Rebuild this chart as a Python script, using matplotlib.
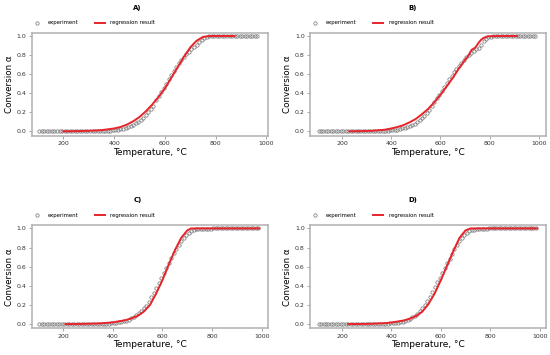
import matplotlib
matplotlib.use('Agg')
import matplotlib.pyplot as plt

# measurement temperatures, °C
temp_exp = [105, 115, 125, 135, 145, 155, 165, 175, 185, 195,
            205, 215, 225, 235, 245, 255, 265, 275, 285, 295,
            305, 315, 325, 335, 345, 355, 365, 375, 385, 395,
            405, 415, 425, 435, 445, 455, 465, 475, 485, 495,
            505, 515, 525, 535, 545, 555, 565, 575, 585, 595,
            605, 615, 625, 635, 645, 655, 665, 675, 685, 695,
            705, 715, 725, 735, 745, 755, 765, 775, 785, 795,
            805, 815, 825, 835, 845, 855, 865, 875, 885, 895,
            905, 915, 925, 935, 945, 955, 965, 975, 985, 995]

# A) experiment 105..965
conv_a_exp = [0.0] * 23 + [
    0.001, 0.002, 0.003, 0.004, 0.006, 0.008, 0.011,
    0.014, 0.018, 0.023, 0.029, 0.036,
    0.045, 0.056, 0.07, 0.085, 0.10,
    0.12, 0.14, 0.17, 0.20, 0.235,
    0.27, 0.33, 0.37, 0.41, 0.45,
    0.50, 0.55, 0.59, 0.635, 0.675,
    0.715, 0.75, 0.78, 0.81, 0.835,
    0.86, 0.885, 0.91, 0.94, 0.96,
    0.98, 0.99, 0.995, 0.998, 1.0] + [1.0] * 17
temp_a_fit = [200, 250, 300, 350, 400, 425, 450, 475, 500, 525, 550, 575, 600,
              625, 650, 675, 700, 725, 750, 775, 800, 875]
conv_a_fit = [0.0, 0.002, 0.005, 0.012, 0.03, 0.045, 0.07, 0.105, 0.15, 0.21, 0.28,
              0.36, 0.45, 0.56, 0.67, 0.78, 0.88, 0.95, 0.99, 1.0, 1.0, 1.0]

# B) experiment 105..985
conv_b_exp = [0.0] * 24 + [
    0.001, 0.002, 0.003, 0.005, 0.007, 0.009,
    0.012, 0.015, 0.019, 0.024, 0.03,
    0.037, 0.046, 0.056, 0.068, 0.082,
    0.098, 0.117, 0.14, 0.165, 0.19,
    0.225, 0.265, 0.305, 0.345, 0.385,
    0.425, 0.47, 0.51, 0.55, 0.585,
    0.62, 0.655, 0.69, 0.72, 0.75,
    0.775, 0.80, 0.82, 0.84, 0.865,
    0.875, 0.91, 0.945, 0.97, 0.985,
    0.993, 0.997] + [1.0] * 17
temp_b_fit = [230, 275, 325, 375, 400, 425, 450, 475, 500, 525, 550, 575, 600, 625,
              650, 675, 700, 715, 722, 727, 733, 740, 746, 755, 765, 775, 790, 820, 910]
conv_b_fit = [0.0, 0.002, 0.006, 0.017, 0.03, 0.045, 0.065, 0.095, 0.13, 0.18, 0.235,
              0.305, 0.385, 0.47, 0.56, 0.66, 0.75, 0.80, 0.835, 0.855, 0.865, 0.875,
              0.895, 0.93, 0.96, 0.98, 0.995, 1.0, 1.0]

# C) experiment 105..985
conv_c_exp = [0.0] * 25 + [
    0.001, 0.002, 0.003, 0.005, 0.007,
    0.01, 0.013, 0.017, 0.022, 0.029,
    0.037, 0.047, 0.06, 0.075, 0.093,
    0.115, 0.14, 0.165, 0.19, 0.23,
    0.28, 0.33, 0.38, 0.43, 0.48,
    0.53, 0.59, 0.64, 0.69, 0.74,
    0.79, 0.83, 0.87, 0.905, 0.935,
    0.955, 0.972, 0.983, 0.99, 0.993,
    0.995, 0.996, 0.997, 0.998, 0.999] + [1.0] * 19
temp_c_fit = [210, 250, 300, 350, 400, 450, 475, 500, 525, 550, 575, 600, 625,
              650, 675, 700, 715, 990]
conv_c_fit = [0.0, 0.001, 0.003, 0.007, 0.018, 0.04, 0.06, 0.085, 0.13, 0.20, 0.32,
              0.46, 0.62, 0.77, 0.90, 0.98, 1.0, 1.0]

# D) experiment 105..985
conv_d_exp = [0.0] * 25 + [
    0.001, 0.002, 0.003, 0.004, 0.006,
    0.008, 0.011, 0.015, 0.02, 0.026,
    0.034, 0.044, 0.056, 0.071, 0.089,
    0.11, 0.135, 0.165, 0.20, 0.24,
    0.285, 0.335, 0.385, 0.435, 0.485,
    0.535, 0.585, 0.635, 0.685, 0.735,
    0.78, 0.825, 0.865, 0.90, 0.93,
    0.955, 0.97, 0.98, 0.987, 0.992,
    0.995, 0.997, 0.998, 0.999, 1.0] + [1.0] * 19
temp_d_fit = [225, 275, 325, 375, 400, 450, 475, 500, 525, 550, 575, 600, 625,
              650, 675, 700, 720, 990]
conv_d_fit = [0.0, 0.001, 0.004, 0.01, 0.016, 0.038, 0.057, 0.085, 0.13, 0.21, 0.32,
              0.46, 0.61, 0.76, 0.90, 0.98, 1.0, 1.0]

panels = [
    ('A)', [0.058, 0.618, 0.429, 0.290], (76, 1006), conv_a_exp, temp_a_fit, conv_a_fit),
    ('B)', [0.564, 0.618, 0.428, 0.290], (71, 1027), conv_b_exp, temp_b_fit, conv_b_fit),
    ('C)', [0.058, 0.075, 0.429, 0.291], (75, 1024), conv_c_exp, temp_c_fit, conv_c_fit),
    ('D)', [0.564, 0.075, 0.428, 0.291], (71, 1024), conv_d_exp, temp_d_fit, conv_d_fit),
]

fig = plt.figure(figsize=(5.5, 3.55), dpi=100)

for title, pos, xlim, conv_exp, temp_fit, conv_fit in panels:
    ax = fig.add_axes(pos)
    ax.plot(temp_exp[:len(conv_exp)], conv_exp, linestyle='none', marker='o',
            markersize=2.4, markerfacecolor='none', markeredgecolor='#7a7a7a',
            markeredgewidth=0.55, label='experiment')
    ax.plot(temp_fit, conv_fit, color='#e8232a', linewidth=1.4, label='regression result')
    ax.set_xlim(*xlim)
    ax.set_ylim(-0.045, 1.035)
    ax.set_xticks([200, 400, 600, 800, 1000])
    ax.set_yticks([0.0, 0.2, 0.4, 0.6, 0.8, 1.0])
    ax.set_xlabel('Temperature, °C', fontsize=6.5, labelpad=1)
    ax.set_ylabel('Conversion α', fontsize=6.3, labelpad=2)
    ax.tick_params(axis='both', which='major', labelsize=4.5, length=2.5, width=0.6,
                   color='#999999', labelcolor='#333333', pad=1.5)
    for sp in ax.spines.values():
        sp.set_color('#b0b0b0')
        sp.set_linewidth(1.1)
    ax.legend(loc='center left', bbox_to_anchor=(0.0, 1.094), ncol=2, frameon=False,
              fontsize=3.9, handlelength=1.8, handletextpad=1.05, columnspacing=3.1,
              borderpad=0, borderaxespad=0)
    # panel letter centred over its half of the figure
    fx = 0.25 if pos[0] < 0.5 else 0.75
    fy = 1 - 8 / 355 if pos[1] > 0.5 else 1 - 200 / 355
    fig.text(fx, fy, title, ha='center', va='center', fontsize=5, fontweight='bold')

fig.savefig('out.png', dpi=100)
